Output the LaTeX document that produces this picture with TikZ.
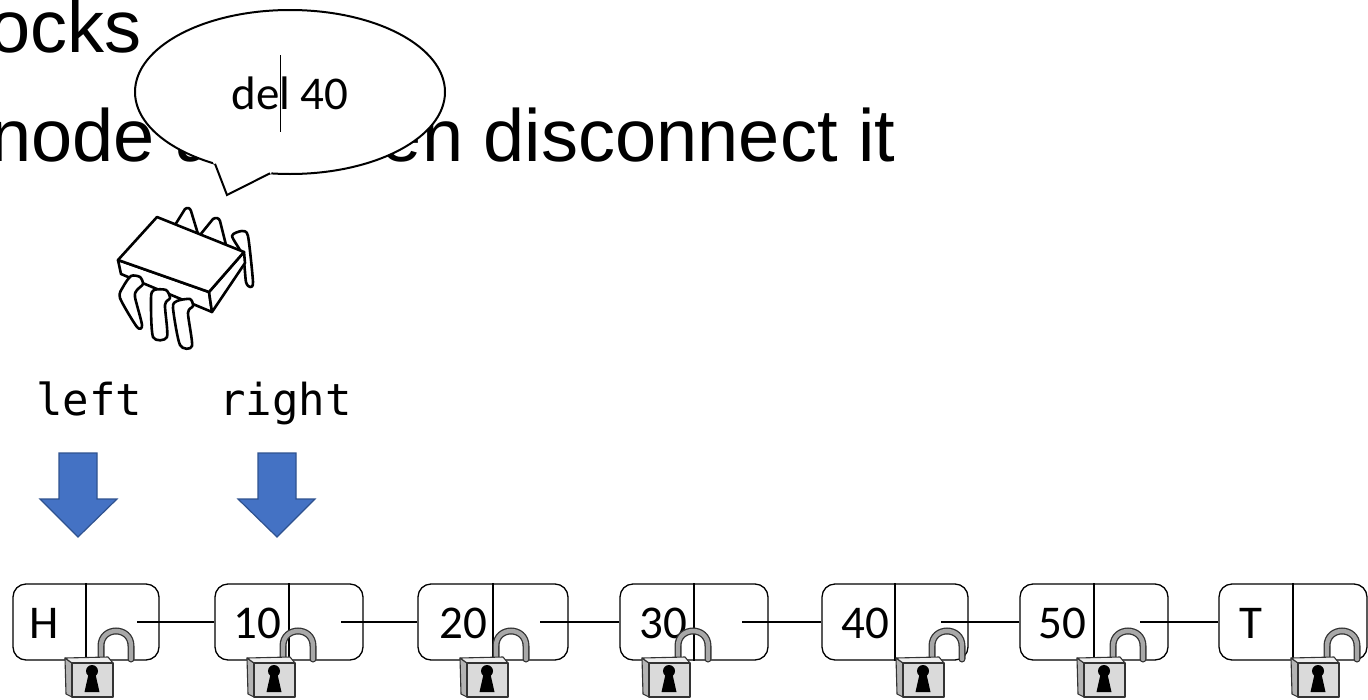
\documentclass[tikz,border=0pt]{standalone}
\usepackage{fontspec}
\setmainfont{Liberation Sans}
\newfontfamily\calfont{Carlito}
\newfontfamily\codefont{DejaVu Sans Mono}
\usetikzlibrary{calc}

\definecolor{arrowblue}{HTML}{4472C4}
\definecolor{arrowedge}{HTML}{2F528F}
\definecolor{lockface}{HTML}{DADADA}
\definecolor{lockside}{HTML}{B4B4B4}
\definecolor{locktop}{HTML}{EEEEEE}
\definecolor{shacklegray}{HTML}{A8A8A8}
\definecolor{lockedge}{HTML}{333333}

\tikzset{
  headline/.style={font=\fontsize{74}{80}\selectfont, inner sep=0pt, anchor=base west},
  listnode/.style={draw, line width=1.3pt, rounded corners=13pt, minimum height=76pt, fill=white, inner sep=0pt},
  nodelabel/.style={font=\calfont\fontsize{47}{52}\selectfont, inner sep=0pt, anchor=base west},
  link/.style={line width=1.3pt},
  ptrlabel/.style={font=\codefont\fontsize{44}{50}\selectfont, inner sep=0pt, anchor=base west},
  bigarrow/.style={fill=arrowblue, draw=arrowedge, line width=1.2pt, line join=miter},
  chipline/.style={line width=2.6pt, line join=round, line cap=round, fill=white},
  lockline/.style={draw=lockedge, line width=1.1pt, line join=round},
}

% padlock whose front face starts at x = #1
\newcommand\padlock[1]{%
  \begin{scope}[shift={(#1,0)}]
    \draw[lockedge, line width=7pt, line cap=round]
      (29,664) -- (29,646) .. controls (29,626) and (59,626) .. (59,646) -- (59,659);
    \draw[shacklegray, line width=4.4pt, line cap=round]
      (29,664) -- (29,646) .. controls (29,626) and (59,626) .. (59,646) -- (59,659);
    \filldraw[lockline, fill=lockside] (-7,658) -- (0,663) -- (0,697) -- (-6,694) -- cycle;
    \filldraw[lockline, fill=locktop] (-7,658) -- (36,657) -- (41,663) -- (0,663) -- cycle;
    \filldraw[lockline, fill=lockface] (0,663) rectangle (41,697);
    \fill (20,671) circle (6);
    \fill (17,672) -- (23,672) -- (27.5,692) -- (12.5,692) -- cycle;
  \end{scope}}

\begin{document}
\begin{tikzpicture}[x=1pt, y=-1pt]
  \useasboundingbox (0,0) rectangle (1368,699);
  \clip (0,0) rectangle (1368,699);
  \fill[white] (0,0) rectangle (1368,699);

  % heading lines
  \node[headline] (line1) at (-11,52.5) {ocks};
  \node[headline] (line2) at (-10,161) {node and then disconnect it};

  % speech bubble
  \draw[line width=2pt, fill=white] (290,92) ellipse [x radius=155, y radius=82];
  \fill[white] (213,162) -- (227,195) -- (272,173) -- (250,158) -- cycle;
  \draw[line width=2pt, line join=miter] (215,163.8) -- (227,195) -- (270,173.3);
  \node[font=\calfont\fontsize{47}{52}\selectfont, inner sep=0pt, anchor=base] (say) at (290,109) {del 40};
  \draw[line width=0.9pt] (280,55) -- (280,132);

  % processor chip
  % back pins
  \draw[chipline] (175,225) -- (185,209) .. controls (188,207) and (190,208) .. (191,211) -- (198,234);
  \draw[chipline] (200,235) -- (213,219) .. controls (216,217) and (219,218) .. (220,221) -- (226,245);
  \draw[chipline] plot[smooth cycle, tension=0.4] coordinates {(232,236) (242,231) (248,236) (253,282) (250,287) (246,282) (243,256)};
  % body
  \draw[chipline] (118,260) -- (209,292) -- (212,312) -- (121,274) -- cycle;
  \draw[chipline] (209,292) -- (244,252) -- (245,263) -- (212,312) -- cycle;
  \draw[chipline] (118,260) -- (157,217) -- (244,252) -- (209,292) -- cycle;
  % front legs
  \draw[chipline] plot[smooth cycle, tension=0.45] coordinates {(131,276) (123,287) (120,298) (137,327) (142,325) (135,297) (137,290) (143,284) (140,277)};
  \draw[chipline] plot[smooth cycle, tension=0.45] coordinates {(154,290) (151,298) (153,337) (167,337) (165,305) (170,298) (166,290)};
  \draw[chipline] plot[smooth cycle, tension=0.45] coordinates {(177,301) (173,308) (180,345) (192,346) (188,313) (193,306) (190,299)};

  % pointer names
  \node[ptrlabel] (leftname) at (36,415) {left};
  \node[ptrlabel] (rightname) at (219,415) {right};

  % pointer arrows
  \draw[bigarrow] (59,453) -- (97,453) -- (97,499) -- (117,499) -- (78,537) -- (40,499) -- (59,499) -- cycle;
  \draw[bigarrow] (258,453) -- (296,453) -- (296,499) -- (315,499) -- (277,537) -- (238,499) -- (258,499) -- cycle;

  % list nodes
  \node[listnode, minimum width=146pt] (nH)  at (86,622)   {};
  \node[listnode, minimum width=148pt] (n10) at (289,622)  {};
  \node[listnode, minimum width=150pt] (n20) at (493,622)  {};
  \node[listnode, minimum width=148pt] (n30) at (694,622)  {};
  \node[listnode, minimum width=146pt] (n40) at (895,622)  {};
  \node[listnode, minimum width=148pt] (n50) at (1094,622) {};
  \node[listnode, minimum width=148pt] (nT)  at (1293,622) {};
  \foreach \n in {nH,n10,n20,n30,n40,n50,nT}
    \draw[line width=1.1pt] (\n.north) -- (\n.south);

  \node[nodelabel] (kH)  at (29.5,638.5) {H};
  \node[nodelabel] (k10) at (233,638.5)  {10};
  \node[nodelabel] (k20) at (439,638.5)  {20};
  \node[nodelabel] (k30) at (639,638.5)  {30};
  \node[nodelabel] (k40) at (841,638.5)  {40};
  \node[nodelabel] (k50) at (1038,638.5) {50};
  \node[nodelabel] (kT)  at (1239,638.5) {T};

  % next pointers
  \coordinate (pH)  at (137,622);
  \coordinate (p10) at (341,622);
  \coordinate (p20) at (540,622);
  \coordinate (p30) at (742,622);
  \coordinate (p40) at (941,622);
  \coordinate (p50) at (1140,622);
  \draw[link] (pH)  -- (n10.west);
  \draw[link] (p10) -- (n20.west);
  \draw[link] (p20) -- (n30.west);
  \draw[link] (p30) -- (n40.west);
  \draw[link] (p40) -- (n50.west);
  \draw[link] (p50) -- (nT.west);

  % locks
  \padlock{72}
  \padlock{254}
  \padlock{467}
  \padlock{649}
  \padlock{903}
  \padlock{1084}
  \padlock{1298}
\end{tikzpicture}
\end{document}
